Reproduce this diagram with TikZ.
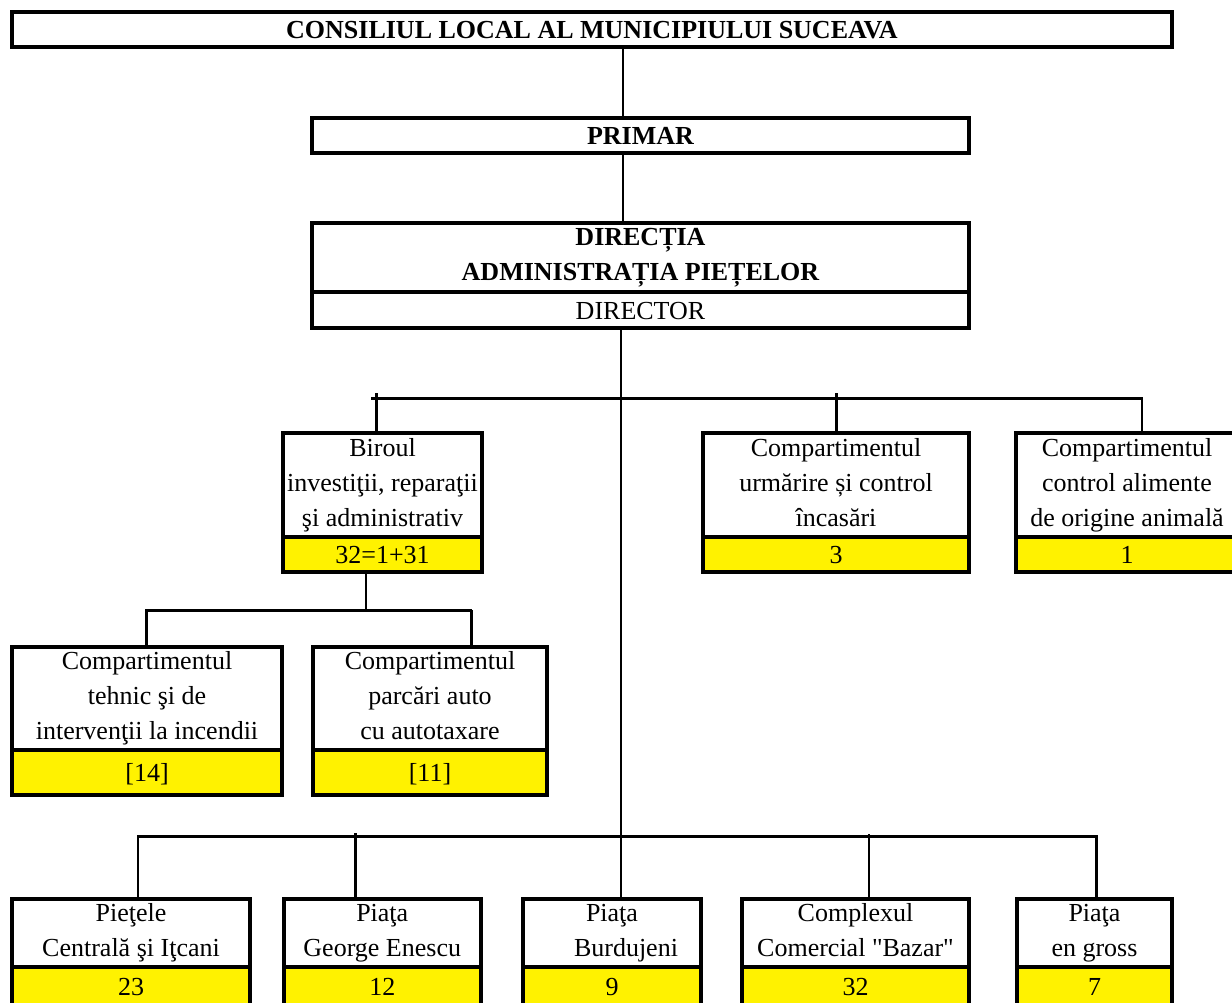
\documentclass[tikz,border=0pt]{standalone}
\usepackage{fontspec}
\setmainfont{Liberation Serif}
\newcommand\boxstrut{\rule[-6pt]{0pt}{30pt}}
\begin{document}
\begin{tikzpicture}[x=1pt,y=-1pt,
  box/.style={draw=black, line width=4pt, fill=white, inner sep=0pt, outer sep=0pt,
              anchor=north west, align=center, font=\fontsize{26}{35}\selectfont,
              execute at begin node=\boxstrut, execute at end node=\boxstrut},
  numbox/.style={box, fill=yellow},
  busline/.style={line width=3pt, draw=black},
  thinline/.style={line width=2.2pt, draw=black},
]
\useasboundingbox (0,0) rectangle (1232,1003);
\clip (0,0) rectangle (1232,1003);

% ---------- boxes ----------
\node[box, minimum width=1160pt, minimum height=35pt, font=\fontsize{26}{35}\selectfont\bfseries]
  (cl) at (12,12) {CONSILIUL LOCAL AL MUNICIPIULUI SUCEAVA};
\node[box, minimum width=657pt, minimum height=35pt, font=\fontsize{26}{35}\selectfont\bfseries]
  (primar) at (312,118) {PRIMAR};
\node[box, minimum width=657pt, minimum height=69pt, font=\fontsize{26}{35}\selectfont\bfseries]
  (dirtop) at (312,223) {DIRECȚIA\\ADMINISTRAȚIA PIEȚELOR};
\node[box, minimum width=657pt, minimum height=36pt]
  (dirbot) at (312,292) {DIRECTOR};

\node[box, minimum width=199pt, minimum height=104pt] (biroul) at (283,433)
  {Biroul\\investiţii, reparaţii\\şi administrativ};
\node[numbox, minimum width=199pt, minimum height=35pt] (birouln) at (283,537) {32=1+31};

\node[box, minimum width=266pt, minimum height=104pt] (urm) at (703,433)
  {Compartimentul\\urmărire și control\\încasări};
\node[numbox, minimum width=266pt, minimum height=35pt] (urmn) at (703,537) {3};

\node[box, minimum width=222pt, minimum height=104pt] (alim) at (1016,433)
  {Compartimentul\\control alimente\\de origine animală};
\node[numbox, minimum width=222pt, minimum height=35pt] (alimn) at (1016,537) {1};

\node[box, minimum width=270pt, minimum height=103pt] (tehnic) at (12,647)
  {Compartimentul\\tehnic şi de\\intervenţii la incendii};
\node[numbox, minimum width=270pt, minimum height=45pt] (tehnicn) at (12,750) {[14]};

\node[box, minimum width=234pt, minimum height=103pt] (parc) at (313,647)
  {Compartimentul\\parcări auto\\cu autotaxare};
\node[numbox, minimum width=234pt, minimum height=45pt] (parcn) at (313,750) {[11]};

\node[box, minimum width=238pt, minimum height=68pt] (piet) at (12,899)
  {Pieţele\\Centrală şi Iţcani};
\node[numbox, minimum width=238pt, minimum height=39pt] (pietn) at (12,967) {23};

\node[box, minimum width=197.5pt, minimum height=68pt] (enescu) at (283.5,899)
  {Piaţa\\George Enescu};
\node[numbox, minimum width=197.5pt, minimum height=39pt] (enescun) at (283.5,967) {12};

\node[box, minimum width=178pt, minimum height=68pt] (burd) at (523,899)
  {Piaţa\\\hspace*{28pt}Burdujeni};
\node[numbox, minimum width=178pt, minimum height=39pt] (burdn) at (523,967) {9};

\node[box, minimum width=227pt, minimum height=68pt] (bazar) at (742,899)
  {Complexul\\Comercial \textquotedbl Bazar\textquotedbl};
\node[numbox, minimum width=227pt, minimum height=39pt] (bazarn) at (742,967) {32};

\node[box, minimum width=155pt, minimum height=68pt] (gross) at (1017,899)
  {Piaţa\\en gross};
\node[numbox, minimum width=155pt, minimum height=39pt] (grossn) at (1017,967) {7};

% ---------- connector coordinates ----------
\coordinate (xa) at (623,0);
\coordinate (tr) at (621,0);
\coordinate (mbL) at (371,398);
\coordinate (mbR) at (1143,398);
\coordinate (mt1) at (376,393);
\coordinate (mt2) at (836,393);
\coordinate (mt3) at (1142,398);
\coordinate (b2) at (366,610);
\coordinate (sbL) at (145,610);
\coordinate (sbR) at (472,610);
\coordinate (st1) at (146,610);
\coordinate (st2) at (471,610);
\coordinate (bbL) at (137,836);
\coordinate (bbR) at (1098,836);
\coordinate (bt1) at (138,836);
\coordinate (bt2) at (355,833);
\coordinate (bt4) at (869,834);
\coordinate (bt5) at (1096,836);

% ---------- connectors ----------
\draw[thinline] (cl.south -| xa) -- (primar.north -| xa);
\draw[thinline] (primar.south -| xa) -- (dirtop.north -| xa);
\draw[thinline] (dirbot.south -| tr) -- (burd.north -| tr);

\draw[busline] (mbL) -- (mbR);
\draw[busline] (mt1) -- (mt1 |- biroul.north);
\draw[busline] (mt2) -- (mt2 |- urm.north);
\draw[thinline] (mt3) -- (mt3 |- alim.north);

\draw[thinline] (birouln.south -| b2) -- (b2);
\draw[busline] (sbL) -- (sbR);
\draw[busline] (st1) -- (st1 |- tehnic.north);
\draw[busline] (st2) -- (st2 |- parc.north);

\draw[busline] (bbL) -- (bbR);
\draw[thinline] (bt1) -- (bt1 |- piet.north);
\draw[busline] (bt2) -- (bt2 |- enescu.north);
\draw[thinline] (bt4) -- (bt4 |- bazar.north);
\draw[busline] (bt5) -- (bt5 |- gross.north);
\end{tikzpicture}
\end{document}
